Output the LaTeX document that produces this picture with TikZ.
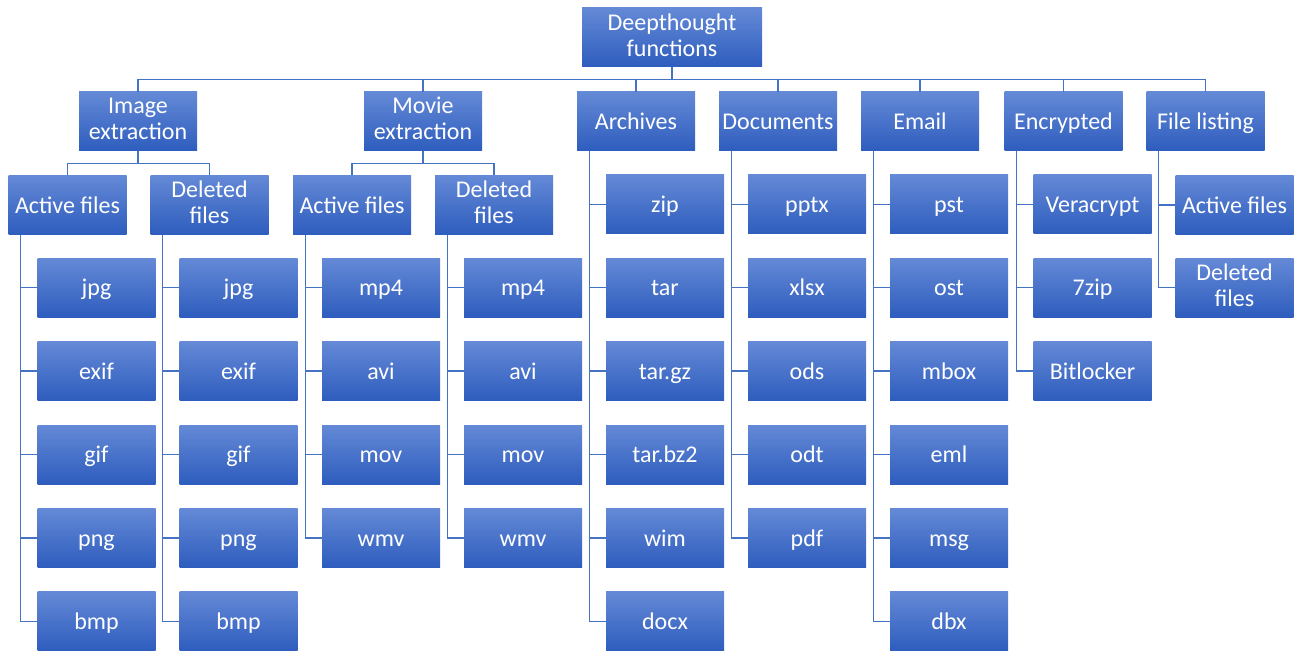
\documentclass[tikz,border=0pt]{standalone}
\usepackage{fontspec}
\setmainfont{Carlito}
\definecolor{boxtop}{RGB}{100,137,214}
\definecolor{boxbot}{RGB}{46,93,190}
\definecolor{linkblue}{RGB}{68,114,196}
\newcommand\boxstrut{\rule[-4.2pt]{0pt}{20.7pt}}
\tikzset{
  fbox/.style={rectangle, top color=boxtop, bottom color=boxbot, text=white,
    minimum width=88.5pt, minimum height=44.25pt, inner sep=0pt, align=center,
    font=\fontsize{18}{19.5}\selectfont,
    execute at begin node=\boxstrut, execute at end node=\boxstrut},
  link/.style={draw=linkblue, line width=1pt},
}
\begin{document}
\begin{tikzpicture}[x=0.75pt, y=0.75pt]
  \useasboundingbox (0,0) rectangle (1300,-652);

  % top of the tree
  \node[fbox, minimum width=135pt] (root) at (672,-37.5) {Deepthought\\functions};

  % function groups
  \node[fbox] (img)  at (138,-121.5)    {Image\\extraction};
  \node[fbox] (mov)  at (423,-121.5)    {Movie\\extraction};
  \node[fbox] (arc)  at (636,-121.5)    {Archives};
  \node[fbox] (doc)  at (778,-121.5)    {Documents};
  \node[fbox] (mail) at (920,-121.5)    {Email};
  \node[fbox] (enc)  at (1063.5,-121.5) {Encrypted};
  \node[fbox] (lst)  at (1205.5,-121.5) {File listing};

  \node[fbox] (imgact) at (67.5,-205)  {Active files};
  \node[fbox] (imgdel) at (209.5,-205) {Deleted\\files};
  \node[fbox] (movact) at (352,-205)   {Active files};
  \node[fbox] (movdel) at (494,-205)   {Deleted\\files};

  \foreach \c in {img,mov,arc,doc,mail,enc,lst}
    \draw[link] (root.south) -- ++(0,-12) -| (\c.north);
  \foreach \p/\c in {img/imgact,img/imgdel,mov/movact,mov/movdel}
    \draw[link] (\p.south) -- ++(0,-12) -| (\c.north);

  % file types, one column per parent
  \foreach \p/\rw/\items in {
      imgact/3/{jpg,exif,gif,png,bmp},
      imgdel/3/{jpg,exif,gif,png,bmp},
      movact/3/{mp4,avi,mov,wmv},
      movdel/3/{mp4,avi,mov,wmv},
      arc/2/{zip,tar,tar.gz,tar.bz2,wim,docx},
      doc/2/{pptx,xlsx,ods,odt,pdf},
      mail/2/{pst,ost,mbox,eml,msg,dbx},
      enc/2/{Veracrypt,7zip,Bitlocker}}{
    \foreach \t [count=\i] in \items {
      \pgfmathsetmacro\yy{-37.5-83.4*(\rw+\i-1)}
      \node[fbox, xshift=21.75pt] (\p\i) at (\p.center |- 0,\yy) {\t};
      \draw[link] ([xshift=9.4pt]\p.south west) |- (\p\i.west);
    }
  }

  \node[fbox, xshift=21.75pt] (lst1) at (lst.center |- imgact.center) {Active files};
  \node[fbox, xshift=21.75pt] (lst2) at (lst.center |- imgact1.center) {Deleted\\files};
  \foreach \i in {1,2}
    \draw[link] ([xshift=9.4pt]lst.south west) |- (lst\i.west);
\end{tikzpicture}
\end{document}
